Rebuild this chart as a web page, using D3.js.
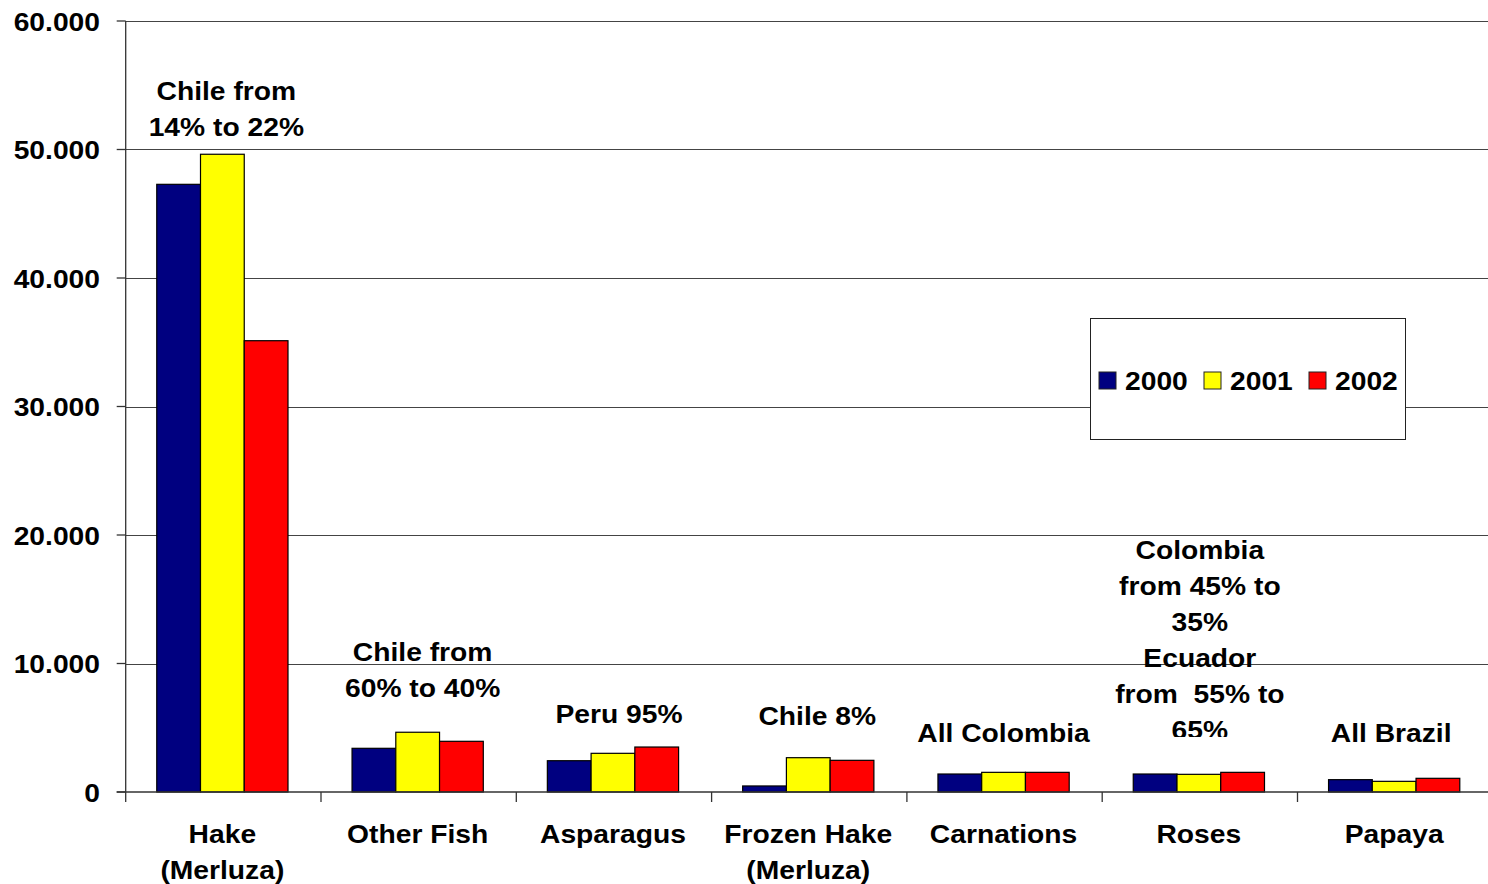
<!DOCTYPE html>
<html>
<head>
<meta charset="utf-8">
<script src="https://cdn.jsdelivr.net/npm/d3@7"></script>
<style>
  html, body { margin: 0; padding: 0; background: #fff; }
  svg { display: block; }
  text { font-family: "Liberation Sans", Arial, sans-serif; font-weight: bold; fill: #000; white-space: pre; }
</style>
</head>
<body>
<svg id="chart" width="1488" height="884"></svg>
<script>
// ---- data ----
const categories = ["Hake\n(Merluza)", "Other Fish", "Asparagus", "Frozen Hake\n(Merluza)", "Carnations", "Roses", "Papaya"];
const seriesNames = ["2000", "2001", "2002"];
const values2000 = [47290, 3400, 2435, 470, 1400, 1400, 960];
const values2001 = [49630, 4650, 3010, 2670, 1530, 1375, 830];
const values2002 = [35120, 3945, 3500, 2465, 1530, 1530, 1065];
const yTicks = [0, 10000, 20000, 30000, 40000, 50000, 60000];
const yTickLabels = ["0", "10.000", "20.000", "30.000", "40.000", "50.000", "60.000"];
const annotations = [
  "Chile from\n14% to 22%",
  "Chile from\n60% to 40%",
  "Peru 95%",
  "Chile 8%",
  "All Colombia",
  "Colombia\nfrom 45% to\n35%\nEcuador\nfrom  55% to\n65%",
  "All Brazil"
];

// ---- layout ----
const colors = ["#000080", "#FFFF00", "#FF0000"];
const W = 1488, H = 884;
const axisX = 125.7, plotRight = 1492.8, yTop = 21, yBottom = 792;
const fs = 25, sx = 1.13, lineH = 36;
// first-line baseline of each annotation (pixels)
const annFirstBaseline = [100, 660.7, 723.3, 725, 741.7, 559.3, 741.7];
const annDx = [3, 4, 5, 8, -1, 0, -4];
const annClipped = [false, false, false, false, false, true, false];

const svg = d3.select("#chart");
const x = d3.scaleBand().domain(categories).range([axisX, plotRight]).paddingInner(0).paddingOuter(0);
const bw = x.bandwidth();
const xs = d3.scaleBand().domain(seriesNames).range([bw * 0.159, bw * 0.159 + bw * 0.672]).padding(0);
const y = d3.scaleLinear().domain([0, 60000]).range([yBottom, yTop]);

function stretchedText(g, str, px, py, anchor) {
  return g.append("text")
    .attr("transform", `translate(${px},${py}) scale(${sx},1)`)
    .attr("text-anchor", anchor)
    .style("font-size", fs + "px")
    .text(str);
}

// gridlines
svg.append("g").selectAll("line").data(yTicks.filter(d => d > 0)).join("line")
  .attr("x1", axisX).attr("x2", W)
  .attr("y1", d => Math.round(y(d)) + 0.5).attr("y2", d => Math.round(y(d)) + 0.5)
  .attr("stroke", "#444").attr("stroke-width", 1);

// bars
const series = [values2000, values2001, values2002];
const barG = svg.append("g");
series.forEach((vals, si) => {
  barG.selectAll(null).data(vals).join("rect")
    .attr("x", (d, i) => x(categories[i]) + xs(seriesNames[si]))
    .attr("y", d => y(d))
    .attr("width", xs.bandwidth())
    .attr("height", d => yBottom - y(d))
    .attr("fill", colors[si])
    .attr("stroke", "#000").attr("stroke-width", 1.2);
});

// y axis
const yAxisG = svg.append("g");
yAxisG.append("line").attr("x1", axisX).attr("x2", axisX).attr("y1", yTop).attr("y2", yBottom)
  .attr("stroke", "#333").attr("stroke-width", 1.3);
yTicks.forEach((t, i) => {
  const ty = y(t);
  yAxisG.append("line").attr("x1", axisX - 9).attr("x2", axisX).attr("y1", ty).attr("y2", ty)
    .attr("stroke", "#333").attr("stroke-width", 1.3);
  stretchedText(yAxisG, yTickLabels[i], 100, ty + 9.5, "end");
});

// x axis
const xAxisG = svg.append("g");
xAxisG.append("line").attr("x1", axisX - 9).attr("x2", W).attr("y1", yBottom).attr("y2", yBottom)
  .attr("stroke", "#333").attr("stroke-width", 1.5);
categories.forEach((c, i) => {
  const bx = x(c);
  xAxisG.append("line").attr("x1", bx).attr("x2", bx).attr("y1", yBottom).attr("y2", yBottom + 10)
    .attr("stroke", "#333").attr("stroke-width", 1.3);
  c.split("\n").forEach((ln, k) => {
    stretchedText(xAxisG, ln, bx + bw / 2 - 1, 843 + k * 35.5, "middle");
  });
});

// annotations
const defs = svg.append("defs");
defs.append("clipPath").attr("id", "annClip").append("rect")
  .attr("x", 0).attr("y", 0).attr("width", W).attr("height", 737);
annotations.forEach((a, i) => {
  const g = svg.append("g");
  if (annClipped[i]) g.attr("clip-path", "url(#annClip)");
  const cx = x(categories[i]) + bw / 2 + annDx[i];
  a.split("\n").forEach((ln, k) => {
    stretchedText(g, ln, cx, annFirstBaseline[i] + k * lineH, "middle");
  });
});

// legend
const lg = svg.append("g");
lg.append("rect").attr("x", 1090.5).attr("y", 318.5).attr("width", 315).attr("height", 121)
  .attr("fill", "#fff").attr("stroke", "#222").attr("stroke-width", 1);
const legX = [1099, 1204, 1309];
seriesNames.forEach((s, i) => {
  lg.append("rect").attr("x", legX[i]).attr("y", 372).attr("width", 17).attr("height", 17)
    .attr("fill", colors[i]).attr("stroke", "#222").attr("stroke-width", 1);
  stretchedText(lg, s, legX[i] + 26, 390, "start");
});
</script>
</body>
</html>
